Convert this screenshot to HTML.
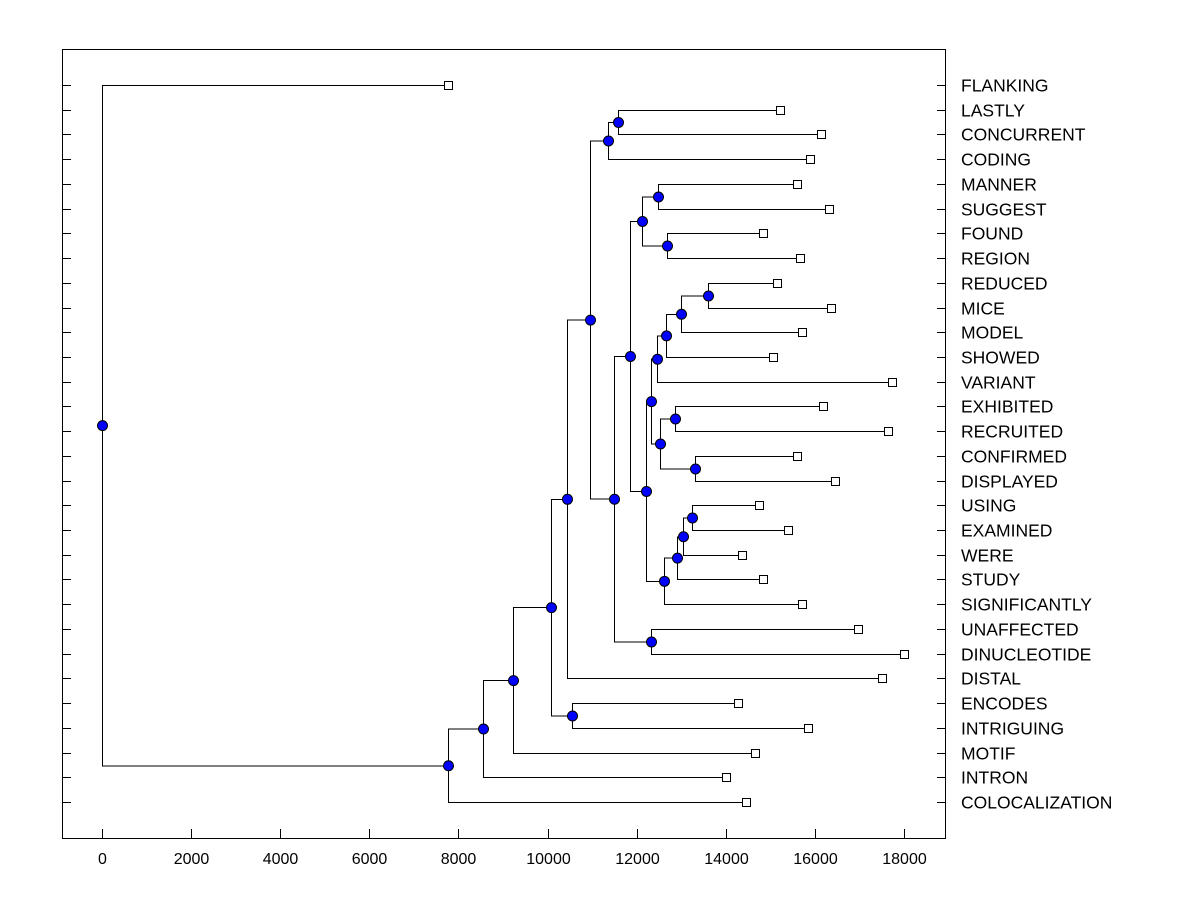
<!DOCTYPE html>
<html><head><meta charset="utf-8"><style>
html,body{margin:0;padding:0;background:#fff;}
svg{display:block;font-family:"Liberation Sans",Arial,sans-serif;}
</style></head><body>
<svg id="chart" width="1200" height="900" xmlns="http://www.w3.org/2000/svg"></svg>
<script>
const leafLabels = ["FLANKING","LASTLY","CONCURRENT","CODING","MANNER","SUGGEST","FOUND","REGION","REDUCED","MICE","MODEL","SHOWED","VARIANT","EXHIBITED","RECRUITED","CONFIRMED","DISPLAYED","USING","EXAMINED","WERE","STUDY","SIGNIFICANTLY","UNAFFECTED","DINUCLEOTIDE","DISTAL","ENCODES","INTRIGUING","MOTIF","INTRON","COLOCALIZATION"];
const leafValues = [7765,15215,16135,15890,15600,16315,14835,15665,15150,16360,15710,15060,17730,16180,17640,15600,16450,14745,15395,14360,14835,15710,16965,18000,17505,14270,15845,14655,14005,14450];
// merges: [childA, childB, height]; leaves are "L<i>", internal nodes "N<i>"
const mergeA = ["L1","N0","L4","L6","N2","L8","N5","N6","N7","L13","L15","N9","N8","L17","N13","N14","N15","N12","N4","L22","N18","N1","N21","L25","N22","N24","N25","N26","L0"];
const mergeB = ["L2","L3","L5","L7","N3","L9","L10","L11","L12","L14","L16","N10","N11","L18","L19","L20","L21","N16","N17","L23","N19","N20","L24","L26","N23","L27","L28","L29","N27"];
const mergeHeights = [11580,11355,12480,12680,12120,13600,12995,12655,12455,12860,13310,12520,12320,13240,13040,12905,12610,12210,11850,12320,11490,10950,10435,10550,10075,9225,8550,7765,0];
const xTicks = [0,2000,4000,6000,8000,10000,12000,14000,16000,18000];

const svg = document.getElementById('chart');
const NS = "http://www.w3.org/2000/svg";
const L=62,T=49,R=945,B=838;
const xs = v => 102 + v*(904-102)/18000;
const ys = i => 85 + i*(802-85)/(leafLabels.length-1);
function mk(tag, attrs, parent){const e=document.createElementNS(NS,tag);for(const k in attrs)e.setAttribute(k,attrs[k]);(parent||svg).appendChild(e);return e;}

const frame = mk('rect',{x:L+0.5,y:T+0.5,width:R-L,height:B-T,fill:'none',stroke:'#000','stroke-width':1,'shape-rendering':'crispEdges'});



const xAxis = mk('g',{'shape-rendering':'crispEdges'});


xTicks.forEach(t=>{
  const x=Math.round(xs(t))+0.5;
  const tk=mk('line',{x1:x,x2:x,y1:B,y2:B-9,stroke:'#000'},xAxis);
  
  
  const tx=mk('text',{x:x,y:864,'text-anchor':'middle','font-size':16,fill:'#000'},xAxis);
  tx.textContent=t;
  
  
});

const labelsG = mk('g',{'shape-rendering':'crispEdges'});


leafLabels.forEach((lab,i)=>{
  const y=Math.round(ys(i))+0.5;
  const a=mk('line',{x1:L,x2:L+9,y1:y,y2:y,stroke:'#000'},labelsG);
  
  
  const b=mk('line',{x1:R-8,x2:R,y1:y,y2:y,stroke:'#000'},labelsG);
  
  
  const t=mk('text',{x:961,y:y+6,'font-size':17.5,fill:'#000'},labelsG);
  t.textContent=lab;
  
  
});

const pos={};
leafValues.forEach((v,i)=>{pos['L'+i]={x:Math.round(xs(v))+0.5,y:Math.round(ys(i))+0.5};});
const linesG=mk('g',{'shape-rendering':'crispEdges'});


const nodesG=mk('g',{});


mergeHeights.forEach((h,i)=>{
  const a=pos[mergeA[i]], b=pos[mergeB[i]];
  const x=Math.round(xs(h))+0.5, y=(a.y+b.y)/2;
  pos['N'+i]={x:x,y:y};
  const p=mk('path',{d:`M${a.x},${a.y}H${x}V${b.y}H${b.x}`,fill:'none',stroke:'#000','stroke-width':1},linesG);
  
  
});
mergeHeights.forEach((h,i)=>{
  const n=pos['N'+i];
  const c=mk('circle',{cx:n.x,cy:n.y,r:5,fill:'#0000ff',stroke:'#000','stroke-width':1},nodesG);
  
  
});
leafValues.forEach((v,i)=>{
  const p=pos['L'+i];
  const r=mk('rect',{x:p.x-4,y:p.y-4,width:8,height:8,fill:'#fff',stroke:'#000','stroke-width':1,'shape-rendering':'crispEdges'},nodesG);
  
  
});
</script>
</body></html>
